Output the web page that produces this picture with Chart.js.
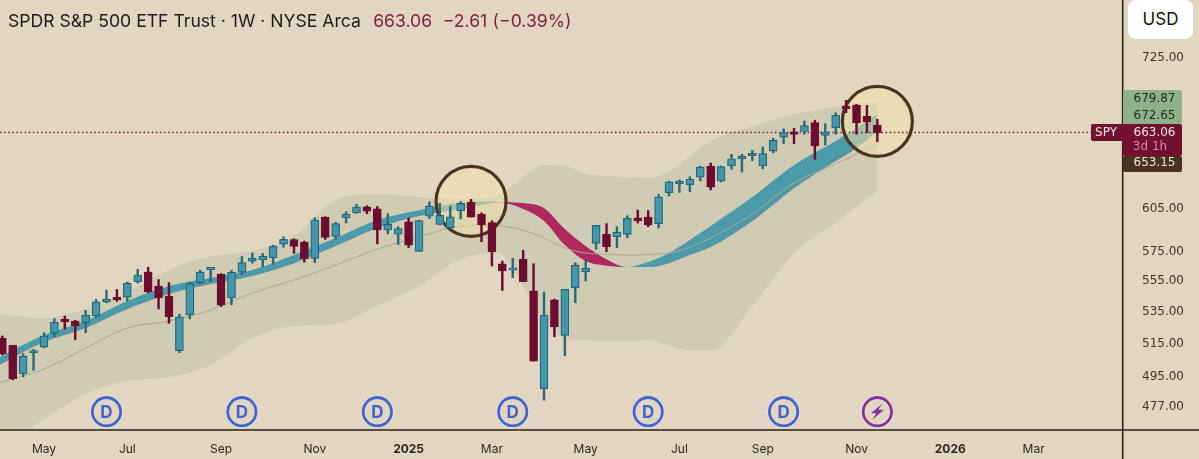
<!DOCTYPE html>
<html>
<head>
<meta charset="utf-8">
<title>SPY 1W</title>
<script src="https://cdn.jsdelivr.net/npm/chart.js@4"></script>
<style>
  html, body { margin: 0; padding: 0; background: #e2d6c0; }
  #wrap { position: relative; width: 1199px; height: 459px; overflow: hidden; }
  #title { position: absolute; left: 8px; top: 10px; font: 17.6px Inter, sans-serif; color: #1c1a16; white-space: nowrap; }
  #title span { color: #7d1f3e; margin-left: 2px; word-spacing: 0.4px; }
  #usd { position: absolute; left: 1128px; top: 0; width: 65px; height: 39px; text-align: center;
         background: #fff; border-radius: 8px; font: 17px/39px Inter, sans-serif; color: #16140f; }
</style>
</head>
<body>
<div id="wrap">
  <canvas id="chart" width="1199" height="459"></canvas>
  <div id="title">SPDR S&amp;P 500 ETF Trust · 1W · NYSE Arca <span>&nbsp;663.06 &nbsp;−2.61 (−0.39%)</span></div>
  <div id="usd">USD</div>
</div>
<script>
// weekly candles
const open = [518.1, 513.8, 496.6, 509.1, 512.7, 521.4, 528.8, 529, 527.9, 532.2,
  541.2, 543.3, 544.4, 554.5, 561, 551.7, 544.9, 510.5, 533, 553.9,
  562.6, 559.5, 543.8, 560.8, 568.4, 569.3, 570.7, 580.1, 583.3, 581.5,
  570.2, 599.2, 585.5, 598.7, 602.3, 606.6, 605.2, 590.1, 587.1, 595.7,
  575.1, 599.9, 594, 591.5, 603.7, 609.9, 601.1, 595.2, 566.6, 562.2,
  569.6, 548.5, 487.8, 542.6, 520, 550.6, 561.2, 580.6, 586.9, 585.2,
  586.9, 598.7, 599.2, 594.5, 617, 623.7, 622.9, 628.5, 636.8, 625.5,
  637, 642.6, 644.9, 637, 648.4, 659.5, 662.2, 663.9, 671, 660.9,
  667, 682.9, 685.3, 676.3, 669.1];
const close = [508.7, 493.7, 507.2, 510.1, 519.6, 528.2, 528.4, 526, 532.6, 541.3,
  543.1, 542.6, 553.5, 559, 547.8, 543.8, 531.8, 531.6, 553.2, 561,
  563.1, 539.2, 560.8, 567.3, 570.2, 571.8, 578.5, 583.4, 578.5, 570,
  597.1, 584.8, 594.5, 601.4, 606.6, 603.5, 590.1, 594, 590.9, 579.4,
  596.6, 607.1, 600.4, 599.4, 609.1, 599.2, 593.5, 574.8, 561.7, 562.8,
  554.5, 504.2, 532.8, 525.2, 549.4, 565.6, 563.5, 593.3, 578.3, 588.5,
  598.3, 596.4, 593.5, 613.9, 625, 624.7, 627, 636.2, 621, 636.5,
  642.6, 644.7, 645.7, 646.5, 656.9, 663, 661.7, 668.7, 652.5, 663.7,
  676.9, 682.3, 670.7, 671.5, 663.06];
const high = [519.6, 513.8, 508.7, 511.3, 521.6, 530.5, 532.2, 529.4, 535.8, 543,
  549, 549.4, 554.3, 562.8, 564.2, 555.9, 553.9, 533.3, 554.1, 562.2,
  563.1, 559.9, 562.2, 571.6, 573.9, 573.7, 579.4, 585.2, 583.8, 582.2,
  598.7, 599.4, 595.5, 603, 608.4, 607.4, 606.9, 601.6, 592.1, 598.7,
  597.1, 610.3, 609.1, 607.1, 610.3, 612.1, 602.3, 596.6, 568.4, 570.2,
  575.8, 566.6, 547.7, 543.1, 549.4, 567.3, 568.9, 593.3, 594.5, 592.3,
  600.2, 604.2, 604, 615.7, 625.7, 626.4, 628.9, 637, 639.3, 637,
  646, 646, 649.1, 651.7, 658.5, 666.1, 666.5, 672.3, 673, 670.1,
  679, 689.2, 685.9, 685.1, 673.7];
const low = [507.9, 493, 494.7, 498.6, 512.3, 519.1, 523.8, 517.2, 521.6, 531.1,
  540.7, 541.6, 541.8, 553.5, 547.2, 536.7, 527.6, 509.3, 530.3, 553.2,
  554.5, 538.3, 539.4, 559.2, 567, 564.5, 566.2, 578, 573.7, 567.7,
  567.3, 583.4, 583.4, 595, 601.9, 601.6, 580.3, 587.3, 579.9, 577.6,
  575.1, 598, 593.5, 591.1, 597.8, 599.2, 581.7, 565.1, 548.8, 557.2,
  554.5, 504.2, 481, 519.1, 507.4, 540.7, 555, 576.5, 574.8, 577.6,
  584.5, 595, 592.3, 591.4, 614.5, 617.2, 617.7, 625.7, 619, 625,
  634.5, 632.4, 641, 635, 647.3, 654.3, 654.3, 661.7, 642.1, 653.3,
  661.7, 679, 661.7, 663, 655.8];

// indicator lines, read at these weeks only
const sampleWeeks = [-1, 4, 8, 12, 16, 20, 24, 28, 32, 36, 40, 44, 47, 48, 50, 52, 54, 56, 58, 60, 62, 64, 66, 68, 72, 76, 80, 82, 84];
const fastLine = [504.2, 520.2, 529, 541.8, 551.7, 557, 562.4, 572.5, 584.3, 597.1, 604.2, 609.3, 610.4, 609.7, 605, 596.4, 579.4, 568.4, 565.3, 564.4, 567.7, 573.9, 582.9, 592.8, 613.7, 637.8, 656.4, 666.7, 678];
const slowLine = [499.4, 515.8, 524.6, 536.7, 546.4, 553, 558.4, 567, 578.7, 591.4, 599.9, 605, 609.3, 610.1, 609.3, 605.7, 590.6, 578.7, 569.7, 564.4, 564.3, 567, 572.5, 578, 596.4, 620.3, 640.8, 651, 664.3];
const basisLine = [490, 499.4, 512.1, 524.6, 529, 536, 547, 555.7, 565.7, 576.7, 585, 592.8, 593.5, 592.8, 589.9, 584.3, 577.4, 573.9, 573.2, 572.5, 572.9, 573.9, 578, 584.3, 601.4, 624.2, 638.5, 646.3, 653.3];
const upperBand = [534, 530.9, 536.7, 547.7, 562.4, 571.8, 575.3, 585.7, 611.5, 616, 613.7, 612.3, 613, 616, 628.7, 637.8, 637, 630.9, 629.5, 628.7, 628, 633.2, 644.7, 656.4, 668.3, 678, 683.7, 687, 687];
const lowerBand = [450, 470.3, 484.7, 492.3, 494.7, 501.8, 518.3, 525.9, 527.1, 538.6, 551.7, 569.7, 573.9, 571.8, 551.7, 529, 518.3, 517, 516.4, 516.4, 517, 513.9, 510.3, 510.3, 538.6, 573.9, 595, 607.1, 618.2];

const lastPrice = 663.06;
const circleWeeks = [45, 84];
const circlePrices = [610.6, 672];
const dividendWeeks = [10, 23, 36, 49, 62, 75];
const flashWeeks = [84];
const markerPrice = 474.5;

const priceTicks = [477, 495, 515, 535, 555, 575, 605, 725];
const timeWeeks = [4, 12, 21, 30, 39, 47, 56, 65, 73, 82, 91, 99];
const timeLabels = ['May', 'Jul', 'Sep', 'Nov', '2025', 'Mar', 'May', 'Jul', 'Sep', 'Nov', '2026', 'Mar'];

const BG = '#e2d6c0';
const TEAL = '#4696ab', TEAL_EDGE = '#1f6778', TEAL_WICK = '#2c6b75', RED = '#6c0d30';
const AXIS = '#2b2116';

const weeks = open.map(function (v, i) { return i; });
const isUp = open.map(function (v, i) { return close[i] >= v; });
const xMin = -0.221, xMax = 107.58;

function sampled(values) {
  return sampleWeeks.map(function (w, i) { return { x: w, y: values[i] }; });
}

// stops chart.js from shrinking the plot to make room for tick labels
function noPadding(scale) {
  scale.paddingLeft = 0;
  scale.paddingRight = 0;
  scale.paddingTop = 0;
  scale.paddingBottom = 0;
}

const overlays = {
  id: 'overlays',
  afterDraw: function (chart) {
    const ctx = chart.ctx, xs = chart.scales.x, ys = chart.scales.y;
    ctx.save();

    // axis lines run across the whole picture
    ctx.strokeStyle = AXIS;
    ctx.lineWidth = 1.6;
    ctx.beginPath();
    ctx.moveTo(0, 430); ctx.lineTo(1199, 430);
    ctx.moveTo(1122.7, 0); ctx.lineTo(1122.7, 459);
    ctx.stroke();

    // price pills
    const pill = function (x, y, w, h, color) {
      ctx.fillStyle = color;
      ctx.beginPath();
      ctx.roundRect(x, y, w, h, 2);
      ctx.fill();
    };
    pill(1123, 90, 59, 34, '#8eb08a');
    pill(1091, 124, 34, 17, '#72102f');
    pill(1123, 124, 59, 32, '#72102f');
    pill(1123, 156, 59, 16, '#4a3222');
    ctx.font = '12px "DejaVu Sans"';
    ctx.textBaseline = 'middle';
    ctx.textAlign = 'center';
    const label = function (text, x, y, color) {
      ctx.fillStyle = color;
      ctx.fillText(text, x, y);
    };
    label('679.87', 1154.5, 99, '#1f2a1c');
    label('672.65', 1154.5, 115.5, '#1f2a1c');
    label('663.06', 1154.5, 132.5, '#f5e6ea');
    label('3d 1h', 1150, 146.5, '#d88aa4');
    label('653.15', 1154.5, 163, '#efe6da');
    label('SPY', 1106, 132.5, '#f5e6ea');

    // event markers under the candles
    const my = ys.getPixelForValue(markerPrice);
    const ring = function (x, color) {
      ctx.fillStyle = '#fdfbf8';
      ctx.beginPath(); ctx.arc(x, my, 16, 0, Math.PI * 2); ctx.fill();
      ctx.fillStyle = BG;
      ctx.strokeStyle = color;
      ctx.lineWidth = 2.8;
      ctx.beginPath(); ctx.arc(x, my, 14.2, 0, Math.PI * 2); ctx.fill(); ctx.stroke();
    };
    dividendWeeks.forEach(function (w) {
      const x = xs.getPixelForValue(w);
      ring(x, '#3f63d0');
      ctx.fillStyle = '#3f63d0';
      ctx.font = 'bold 17px Inter';
      ctx.fillText('D', x, my + 1);
    });
    flashWeeks.forEach(function (w) {
      const x = xs.getPixelForValue(w);
      ring(x, '#86329b');
      ctx.fillStyle = '#86329b';
      ctx.beginPath();
      ctx.moveTo(x + 5, my - 8); ctx.lineTo(x - 6.5, my + 1.5); ctx.lineTo(x - 1, my + 1.5);
      ctx.lineTo(x - 5, my + 8); ctx.lineTo(x + 6.5, my - 2); ctx.lineTo(x + 1, my - 2);
      ctx.closePath();
      ctx.fill();
    });
    ctx.restore();
  }
};

new Chart(document.getElementById('chart'), {
  type: 'bar',
  plugins: [overlays],
  data: {
    datasets: [
      {
        type: 'line', data: sampled(upperBand), order: 60, borderWidth: 0, pointRadius: 0, cubicInterpolationMode: 'monotone',
        fill: { target: '+1', above: '#cfccb3', below: '#cfccb3' }
      },
      { type: 'line', data: sampled(lowerBand), order: 61, borderWidth: 0, pointRadius: 0, cubicInterpolationMode: 'monotone' },
      {
        type: 'line', data: sampled(fastLine), order: 50, borderWidth: 0, pointRadius: 0, cubicInterpolationMode: 'monotone',
        fill: { target: '+1', above: '#4a9aa9', below: '#b1285f' }
      },
      { type: 'line', data: sampled(slowLine), order: 51, borderWidth: 0, pointRadius: 0, cubicInterpolationMode: 'monotone' },
      { type: 'line', data: sampled(basisLine), order: 45, borderColor: '#aea88f', borderWidth: 1, pointRadius: 0, cubicInterpolationMode: 'monotone' },
      {
        type: 'bubble', order: 30,
        data: circleWeeks.map(function (w, i) { return { x: w, y: circlePrices[i], r: 35 }; }),
        backgroundColor: 'rgba(238,224,170,0.55)', borderColor: '#4a3322', borderWidth: 3.2
      },
      {
        type: 'line', order: 20, data: [{ x: xMin, y: lastPrice }, { x: xMax, y: lastPrice }],
        borderColor: '#7a1535', borderWidth: 1.5, borderDash: [1.5, 2.6], pointRadius: 0
      },
      {
        type: 'bar', order: 10, grouped: false, barThickness: 1.8,
        data: weeks.map(function (i) { return { x: i, y: [low[i], high[i]] }; }),
        backgroundColor: isUp.map(function (up) { return up ? TEAL_WICK : RED; })
      },
      {
        type: 'bar', order: 5, grouped: false, barThickness: 8, minBarLength: 2.5, borderSkipped: false, borderWidth: 1.2,
        data: weeks.map(function (i) { return { x: i, y: [open[i], close[i]] }; }),
        backgroundColor: isUp.map(function (up) { return up ? TEAL : RED; }),
        borderColor: isUp.map(function (up) { return up ? TEAL_EDGE : RED; })
      }
    ]
  },
  options: {
    responsive: false,
    animation: false,
    layout: { padding: 0, autoPadding: false },
    plugins: { legend: { display: false }, tooltip: { enabled: false }, title: { display: false } },
    scales: {
      x: {
        type: 'linear',
        offset: false,
        min: xMin,
        max: xMax,
        grid: { display: false },
        border: { display: false },
        afterBuildTicks: function (scale) {
          scale.ticks = timeWeeks.map(function (w) { return { value: w }; });
        },
        afterFit: function (scale) { scale.height = 29; noPadding(scale); },
        ticks: {
          autoSkip: false,
          maxRotation: 0,
          padding: 4,
          color: '#2b2620',
          font: function (c) {
            const name = timeLabels[timeWeeks.indexOf(c.tick ? c.tick.value : -1)];
            return (name === '2025' || name === '2026') ? { family: 'Inter', size: 12, weight: 'bold' } : { family: 'Inter', size: 12 };
          },
          callback: function (v) { return timeLabels[timeWeeks.indexOf(v)]; }
        }
      },
      y: {
        type: 'logarithmic',
        position: 'right',
        min: 464.2,
        max: 777.3,
        grid: { display: false },
        border: { display: false },
        afterBuildTicks: function (scale) {
          scale.ticks = priceTicks.map(function (p) { return { value: p }; });
        },
        afterFit: function (scale) { scale.width = 76; noPadding(scale); },
        ticks: {
          autoSkip: false,
          padding: 11,
          color: '#3d3328',
          font: { family: 'DejaVu Sans', size: 12 },
          callback: function (v) { return Number(v).toFixed(2); }
        }
      }
    }
  }
});
</script>
</body>
</html>
